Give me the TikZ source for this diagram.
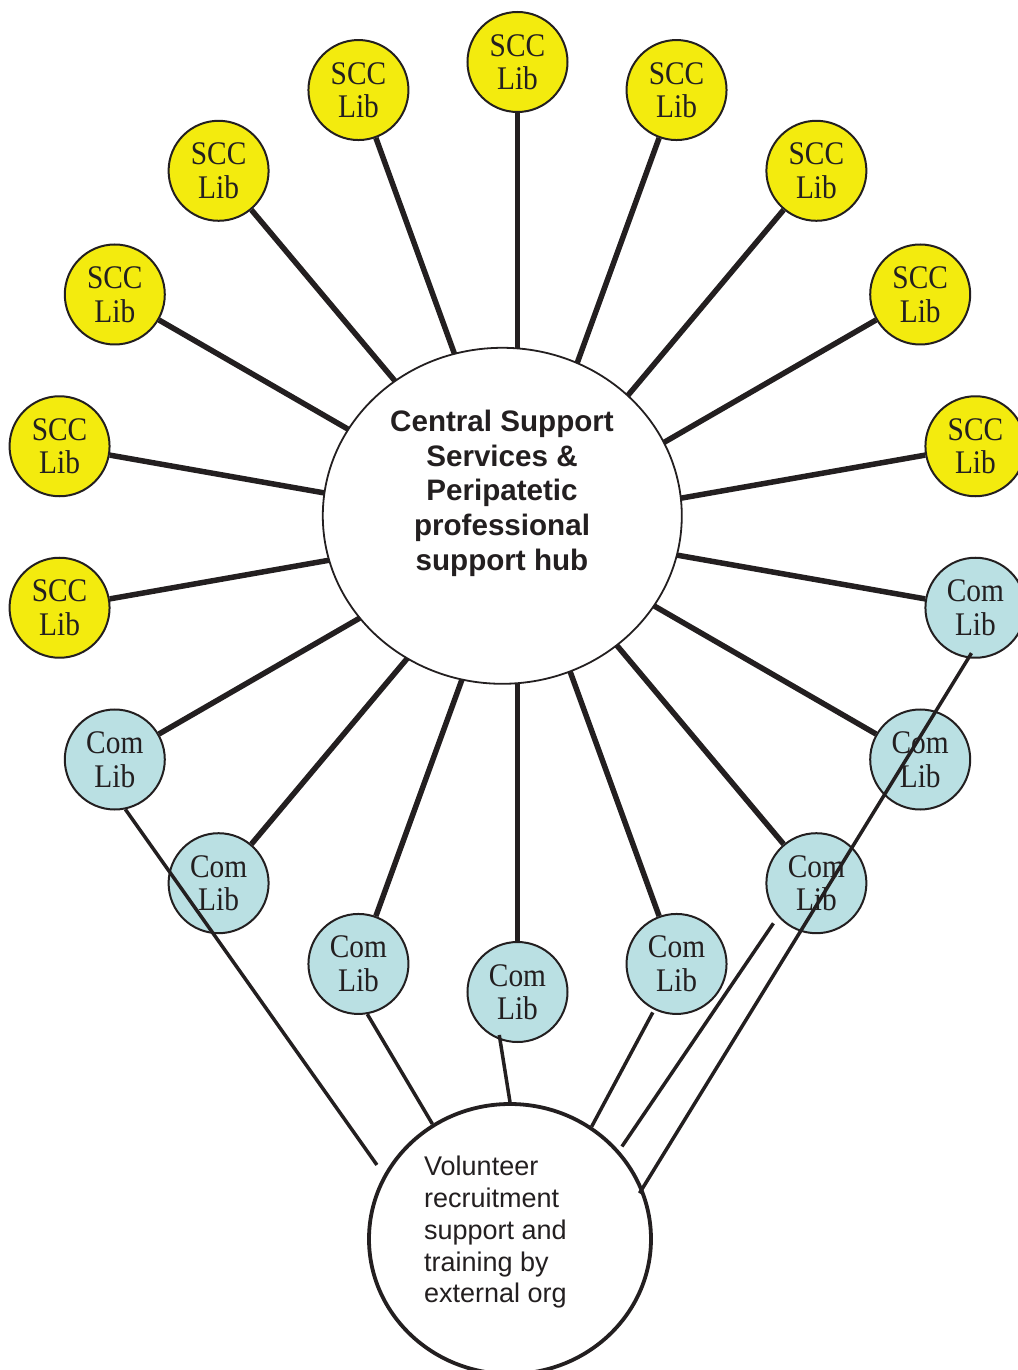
\documentclass[tikz,border=0pt]{standalone}
\usepackage{fontspec}
\usetikzlibrary{shapes.geometric}
\newfontfamily\libfont{Liberation Serif}[FakeStretch=0.89]
\newfontfamily\hubfont{Liberation Sans}
\definecolor{ink}{RGB}{35,31,32}
\definecolor{sccyellow}{RGB}{243,235,14}
\definecolor{comblue}{RGB}{186,224,227}

\tikzset{
  lib/.style={circle, draw=ink, line width=2pt, minimum size=100pt, inner sep=0pt,
    align=center, text=ink, font={\libfont\fontsize{33}{33.5}\selectfont}},
  scclib/.style={lib, fill=sccyellow},
  comlib/.style={lib, fill=comblue},
  spoke/.style={draw=ink, line width=5.5pt},
  feed/.style={draw=ink, line width=3.5pt}
}

\begin{document}
\begin{tikzpicture}[x=1pt, y=1pt]
  \useasboundingbox (-517.5, 527) rectangle (499.5, -843);

  % Ring of libraries
  \coordinate (ring) at (0, 0);
  \foreach \a in {10,30,...,190}
    \node[scclib] (s\a) at (\a:465) {SCC\\Lib};
  \foreach \a in {210,230,...,350}
    \node[comlib] (c\a) at (\a:465) {Com\\Lib};

  % Spokes to the hub
  \foreach \a in {10,30,...,190}
    \draw[spoke] (ring) -- (s\a);
  \foreach \a in {210,230,...,350}
    \draw[spoke] (ring) -- (c\a);

  % The hub
  \node[ellipse, draw=ink, line width=1.8pt, fill=white, minimum width=359pt,
    minimum height=336pt, inner sep=0pt] (hub) at (-15.2, 11.2) {};
  \node[anchor=north, inner sep=0pt, align=center, text=ink,
    font={\hubfont\bfseries\fontsize{29.6}{34.6}\selectfont}] (hubtext)
    at (-15.5, 117) {Central Support\\Services \&\\Peripatetic\\professional\\support hub};

  % Volunteer organisation
  \node[ellipse, draw=ink, line width=3.8pt, fill=white, minimum width=282pt,
    minimum height=270pt, inner sep=0pt] (vol) at (-7.5, -712) {};
  \node[anchor=north west, inner sep=0pt, align=left, text=ink,
    font={\hubfont\fontsize{27}{31.8}\selectfont}] (voltext)
    at (-93.5, -629) {Volunteer\\recruitment\\support and\\training by\\external org};

  % Links from the community libraries
  \draw[feed, shorten >=12pt] (c210.282) -- (vol.153);
  \draw[feed] (c250.280) -- (vol.124);
  \draw[feed, shorten <=-5pt] (c270.250) -- (vol.90);
  \draw[feed, shorten <=3pt] (c290.244) -- (vol.54);
  \draw[feed, shorten <=8pt, shorten >=5pt] (c310.221) -- (vol.39);
  \draw[feed, shorten <=-6pt, shorten >=-6pt] (c350.262) -- (vol.21);
\end{tikzpicture}
\end{document}
